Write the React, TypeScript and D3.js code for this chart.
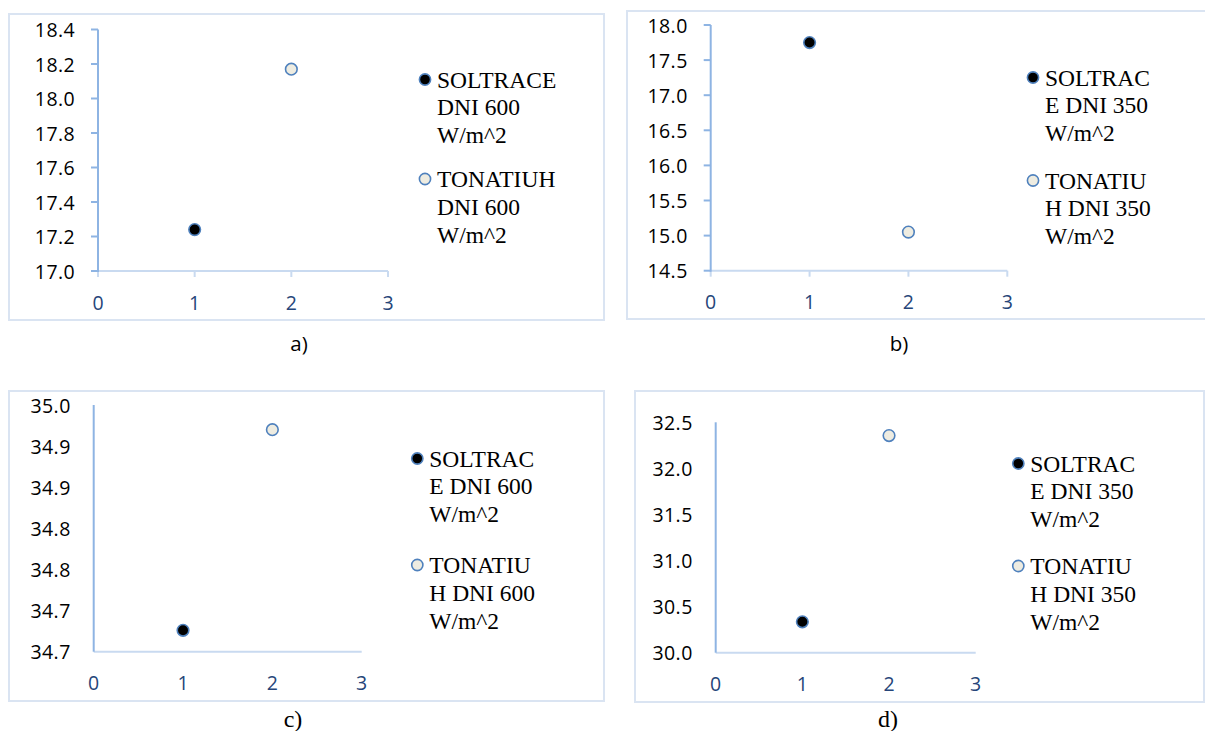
import React from "react";
import * as d3 from "d3";

// ---- data ----
const xTicks = [0, 1, 2, 3];
const seriesNames = ["SOLTRACE", "TONATIUH"];

const aSoltrace = [{ x: 1, y: 17.24 }];
const aTonatiuh = [{ x: 2, y: 18.17 }];
const aYTicks = [17.0, 17.2, 17.4, 17.6, 17.8, 18.0, 18.2, 18.4];
const aYLabels = ["17.0", "17.2", "17.4", "17.6", "17.8", "18.0", "18.2", "18.4"];
const aLegend = [["SOLTRACE", "DNI 600", "W/m^2"], ["TONATIUH", "DNI 600", "W/m^2"]];

const bSoltrace = [{ x: 1, y: 17.75 }];
const bTonatiuh = [{ x: 2, y: 15.05 }];
const bYTicks = [14.5, 15.0, 15.5, 16.0, 16.5, 17.0, 17.5, 18.0];
const bYLabels = ["14.5", "15.0", "15.5", "16.0", "16.5", "17.0", "17.5", "18.0"];
const bLegend = [["SOLTRAC", "E DNI 350", "W/m^2"], ["TONATIU", "H DNI 350", "W/m^2"]];

const cSoltrace = [{ x: 1, y: 34.726 }];
const cTonatiuh = [{ x: 2, y: 34.97 }];
const cYTicks = [34.7, 34.75, 34.8, 34.85, 34.9, 34.95, 35.0];
const cYLabels = ["34.7", "34.7", "34.8", "34.8", "34.9", "34.9", "35.0"];
const cLegend = [["SOLTRAC", "E DNI 600", "W/m^2"], ["TONATIU", "H DNI 600", "W/m^2"]];

const dSoltrace = [{ x: 1, y: 30.335 }];
const dTonatiuh = [{ x: 2, y: 32.356 }];
const dYTicks = [30.0, 30.5, 31.0, 31.5, 32.0, 32.5];
const dYLabels = ["30.0", "30.5", "31.0", "31.5", "32.0", "32.5"];
const dLegend = [["SOLTRAC", "E DNI 350", "W/m^2"], ["TONATIU", "H DNI 350", "W/m^2"]];

// ---- styles ----
const FRAME = "#DAE4F2";
const AXIS_Y = "#8EB4E3";
const AXIS_X = "#C9DAF0";
const XLABEL = "#264579";
const MARK_STROKE = "#4F81BD";
const FILLS = ["#000000", "#EEECE1"];
const SANS = '"Open Sans", sans-serif';
const SERIF = '"Liberation Serif", "DejaVu Serif", serif';

type Pt = { x: number; y: number };
type PanelCfg = {
  frame: [number, number, number, number];
  px: [number, number];
  py: [number, number];
  yDomain: [number, number];
  yTicks: number[];
  yLabels: string[];
  tickMarks: boolean;
  series: Pt[][];
  legend: string[][];
  legendX: number;
  legendY: number[];
  caption: string;
  capX: number;
  capY: number;
  capSerif: boolean;
};

function Panel({ cfg }: { cfg: PanelCfg }) {
  const x = d3.scaleLinear().domain([0, 3]).range(cfg.px);
  const y = d3.scaleLinear().domain(cfg.yDomain).range(cfg.py);
  const [fx0, fy0, fx1, fy1] = cfg.frame;
  const ax = x(0);
  const ay = y(cfg.yDomain[0]);
  const yTop = y(cfg.yDomain[1]);
  return (
    <g>
      <rect x={fx0} y={fy0} width={fx1 - fx0} height={fy1 - fy0} fill="#fff" stroke={FRAME} strokeWidth={2} />
      <line x1={ax} x2={x(3)} y1={ay} y2={ay} stroke={AXIS_X} strokeWidth={2} />
      {cfg.tickMarks &&
        xTicks.map((t) => (
          <line key={"xt" + t} x1={x(t)} x2={x(t)} y1={ay} y2={ay + 6} stroke={AXIS_X} strokeWidth={2} />
        ))}
      <line x1={ax} x2={ax} y1={ay + (cfg.tickMarks ? 1 : 0)} y2={yTop} stroke={AXIS_Y} strokeWidth={2} />
      {cfg.tickMarks &&
        cfg.yTicks.map((t) => (
          <line key={"yt" + t} x1={ax - 7} x2={ax} y1={y(t)} y2={y(t)} stroke={AXIS_Y} strokeWidth={2} />
        ))}
      {cfg.yTicks.map((t, i) => (
        <text
          key={"yl" + i}
          x={ax - 23}
          y={y(t)}
          textAnchor="end"
          dominantBaseline="central"
          style={{ fontFamily: SANS, fontSize: "19.5px", letterSpacing: "0.4px" }}
          fill="#000"
        >
          {cfg.yLabels[i]}
        </text>
      ))}
      {xTicks.map((t) => (
        <text
          key={"xl" + t}
          x={x(t)}
          y={ay + 31}
          textAnchor="middle"
          dominantBaseline="central"
          style={{ fontFamily: SANS, fontSize: "19.5px" }}
          fill={XLABEL}
        >
          {t}
        </text>
      ))}
      {cfg.series.map((s, si) =>
        s.map((p, pi) => (
          <circle
            key={"p" + si + "_" + pi}
            cx={x(p.x)}
            cy={y(p.y)}
            r={5.8}
            fill={FILLS[si]}
            stroke={MARK_STROKE}
            strokeWidth={1.6}
          />
        ))
      )}
      {cfg.legend.map((lines, li) => (
        <g key={"lg" + li}>
          <circle
            cx={cfg.legendX}
            cy={cfg.legendY[li]}
            r={5.6}
            fill={FILLS[li]}
            stroke={MARK_STROKE}
            strokeWidth={1.6}
          >
            <title>{seriesNames[li]}</title>
          </circle>
          {lines.map((ln, k) => (
            <text
              key={k}
              x={cfg.legendX + 12}
              y={cfg.legendY[li] + k * 27.8}
              dominantBaseline="central"
              style={{ fontFamily: SERIF, fontSize: "23.5px" }}
              fill="#000"
            >
              {ln}
            </text>
          ))}
        </g>
      ))}
      <text
        x={cfg.capX}
        y={cfg.capY}
        textAnchor="middle"
        dominantBaseline="central"
        style={{ fontFamily: cfg.capSerif ? SERIF : SANS, fontSize: cfg.capSerif ? "24px" : "20.5px" }}
        fill="#000"
      >
        {cfg.caption}
      </text>
    </g>
  );
}

const panels: PanelCfg[] = [
  {
    frame: [9, 14, 604, 320],
    px: [98, 388],
    py: [271, 29.5],
    yDomain: [17.0, 18.4],
    yTicks: aYTicks,
    yLabels: aYLabels,
    tickMarks: true,
    series: [aSoltrace, aTonatiuh],
    legend: aLegend,
    legendX: 425,
    legendY: [79.5, 179],
    caption: "a)",
    capX: 299,
    capY: 343,
    capSerif: false,
  },
  {
    frame: [627, 11, 1212, 319],
    px: [710.7, 1007.3],
    py: [270.7, 25],
    yDomain: [14.5, 18.0],
    yTicks: bYTicks,
    yLabels: bYLabels,
    tickMarks: true,
    series: [bSoltrace, bTonatiuh],
    legend: bLegend,
    legendX: 1033,
    legendY: [77.5, 180.5],
    caption: "b)",
    capX: 899,
    capY: 343,
    capSerif: false,
  },
  {
    frame: [9, 391, 604, 701],
    px: [93.7, 361.7],
    py: [651.7, 405],
    yDomain: [34.7, 35.0],
    yTicks: cYTicks,
    yLabels: cYLabels,
    tickMarks: false,
    series: [cSoltrace, cTonatiuh],
    legend: cLegend,
    legendX: 417.3,
    legendY: [458.5, 565],
    caption: "c)",
    capX: 293,
    capY: 719,
    capSerif: true,
  },
  {
    frame: [635, 391, 1204, 702],
    px: [715.7, 975.7],
    py: [652.7, 422.3],
    yDomain: [30.0, 32.5],
    yTicks: dYTicks,
    yLabels: dYLabels,
    tickMarks: false,
    series: [dSoltrace, dTonatiuh],
    legend: dLegend,
    legendX: 1018.3,
    legendY: [463.5, 566],
    caption: "d)",
    capX: 888,
    capY: 719,
    capSerif: true,
  },
];

export default function App() {
  return (
    <svg
      width={1205}
      height={731}
      style={{ position: "absolute", left: 0, top: 0, background: "#fff" }}
    >
      <rect x={0} y={0} width={1205} height={731} fill="#fff" />
      {panels.map((p, i) => (
        <Panel key={i} cfg={p} />
      ))}
    </svg>
  );
}
